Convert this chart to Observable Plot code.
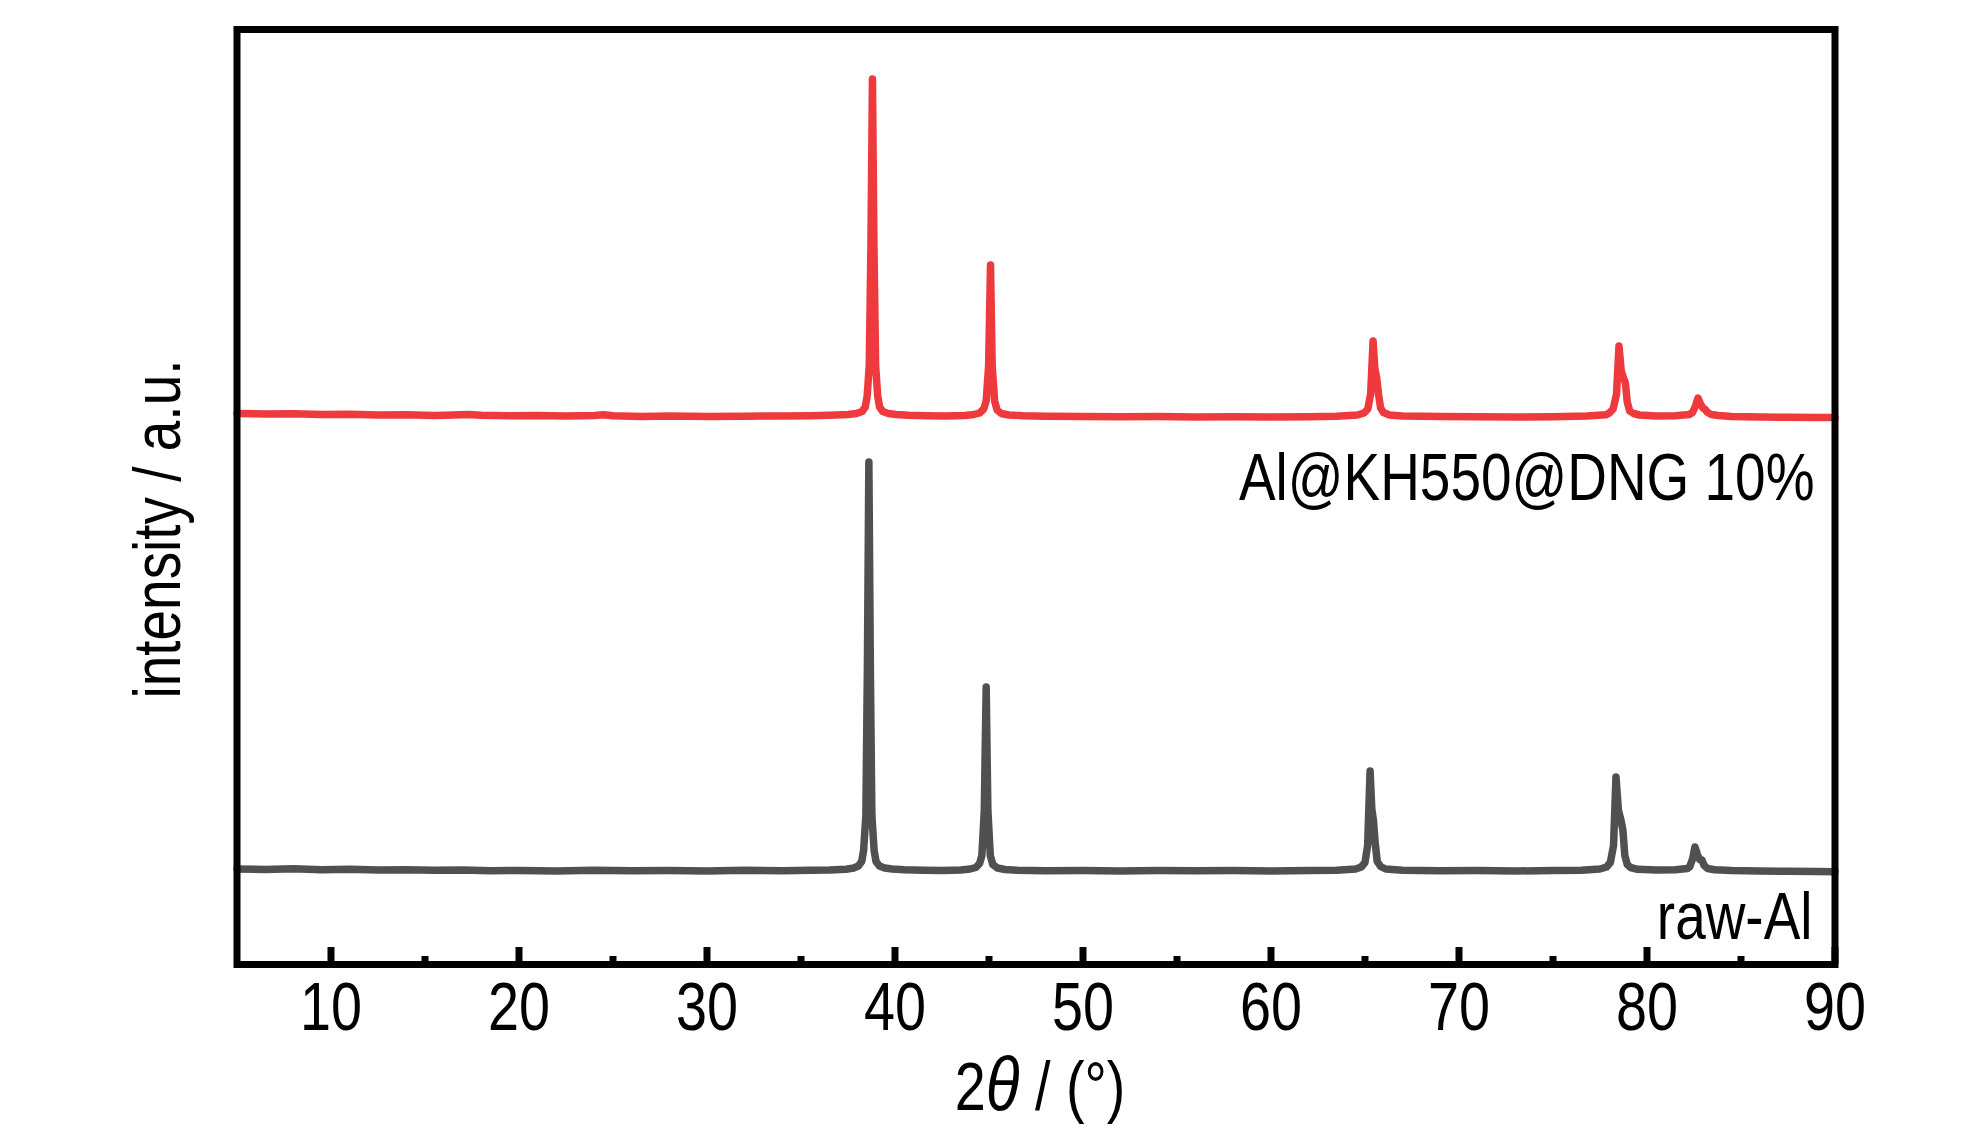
<!DOCTYPE html>
<html>
<head>
<meta charset="utf-8">
<script src="https://cdn.jsdelivr.net/npm/d3@7"></script>
<script src="https://cdn.jsdelivr.net/npm/@observablehq/plot@0.6"></script>
<style>
  html, body { margin: 0; padding: 0; background: #ffffff; }
  #chart svg { display: block; }
</style>
</head>
<body>
<div id="chart"></div>
<script>
// ---- data ----
const seriesNames = ["raw-Al", "Al@KH550@DNG 10%"];
const seriesColors = ["#505050", "#EE3A3D"];
const seriesOffsets = [94, 548.5];   // vertical stacking offset (a.u.)

// [2θ (°), intensity (a.u.)]
const rawAl = [
  [5,1.5],[6.5,1],[8,1.8],[9.5,0.8],[11,1.2],[12.5,0.5],[14,0.8],[15.5,0.2],[17,0.5],[18.5,-0.3],
  [20,0],[22,-0.5],[24,0.2],[26,-0.3],[28,0],[30,-0.5],[32,0.2],[34,-0.2],[35.5,0.3],[36.5,0.5],[37.4,1.2],
  [37.8,2.5],[38.05,4.5],[38.23,9],[38.33,20],[38.45,55],[38.53,200],[38.61,408.5],[38.69,200],[38.77,55],
  [38.89,20],[38.99,9],[39.17,4.5],[39.45,2.5],[39.85,1.5],
  [40.5,0.8],[41.5,0.2],[42.5,0],[43.5,0.5],[44.0,1.5],
  [44.3,3],[44.5,7],[44.62,15],[44.75,60],[44.85,183.5],[44.94,60],[45.07,15],[45.2,6],[45.45,2.5],[45.85,1],
  [46.5,0.3],[48,-0.3],[50,0],[52,-0.5],[54,0],[56,-0.3],[58,0],[60,-0.5],[62,0],[63.5,0.3],[64.5,1.5],
  [64.8,3.5],[65.0,8],[65.14,25],[65.27,99.5],[65.36,62],[65.45,50],[65.54,28],[65.65,9],[65.83,4],[66.1,1.5],
  [67,0.3],[69,-0.2],[71,0],[73,-0.5],[75,0],[76.5,0.3],[77.5,1.5],
  [77.85,3.5],[78.05,8],[78.22,25],[78.35,93.5],[78.48,60],[78.62,50],[78.72,40],[78.82,15],[78.95,6],[79.12,3],[79.5,1.2],
  [80.5,0.5],[81.5,0.8],[82.15,2],
  [82.28,4],[82.43,12],[82.55,23.5],[82.68,16],[82.8,11],[82.92,10.5],[83.04,5],[83.22,2],[83.6,0.8],
  [84.5,0],[86,-0.5],[87.5,-0.8],[89,-1],[90,-1.2]
];

const alKH550DNG = [
  [5,2.5],[6.5,2],[8,2.2],[9.5,1.5],[11,1.8],[12.5,1],[14,1.2],[15.5,0.5],[16.5,1],[17.3,1.6],[18,0.8],
  [19.5,0.3],[21,0.5],[22.5,0],[24,0.6],[24.5,1.2],[25,0.3],[26.5,-0.5],[28,0],[30,-0.5],[32,-0.2],[34,0],
  [35.5,0.3],[36.5,0.8],[37.5,1.5],
  [37.95,2.5],[38.25,4.5],[38.42,9],[38.52,20],[38.63,50],[38.72,170],[38.8,337],[38.88,170],[38.97,50],
  [39.08,20],[39.18,9],[39.35,4.5],[39.65,2.5],[40.05,1.5],
  [40.7,0.8],[41.7,0.3],[42.7,0],[43.7,0.5],[44.2,1.5],
  [44.5,3],[44.72,7],[44.85,15],[44.98,50],[45.08,151],[45.17,50],[45.3,15],[45.43,6],[45.65,2.5],[46.05,1],
  [46.8,0.3],[48,-0.3],[50,-0.5],[52,-0.8],[54,-0.5],[56,-1],[58,-0.8],[60,-1],[62,-0.8],[63.5,-0.3],[64.6,1],
  [64.95,3],[65.15,7],[65.3,22],[65.43,75],[65.52,48],[65.62,38],[65.72,22],[65.83,8],[65.98,3.5],[66.3,1],
  [67,0],[69,-0.5],[71,-0.8],[73,-1],[75,-0.8],[76.8,0],[77.8,1.2],
  [78.0,3],[78.2,7],[78.38,22],[78.51,70],[78.63,45],[78.75,38],[78.85,33],[78.95,14],[79.08,5],[79.28,2.5],[79.6,1],
  [80.5,0],[81.5,0.3],[82.25,1.5],
  [82.42,3.5],[82.58,10],[82.71,18],[82.85,12],[82.97,8],[83.1,6.5],[83.22,3.5],[83.42,1.5],[83.8,0.5],
  [84.5,-0.5],[86,-1],[87.5,-1.2],[89,-1.5],[90,-1.5]
];

const majorTicks = [10, 20, 30, 40, 50, 60, 70, 80, 90];
const minorTicks = [15, 25, 35, 45, 55, 65, 75, 85];
const xDomain = [5, 90];
const yDomain = [0, 935];
const xLabel = "2θ / (°)";
const yLabel = "intensity / a.u.";

// ---- table built from the arrays ----
const seriesData = [rawAl, alKH550DNG];
const rows = seriesData.flatMap((pts, i) =>
  pts.map(([t, v]) => ({series: seriesNames[i], theta: t, value: v + seriesOffsets[i]}))
);

const font = "'Liberation Sans Narrow', 'Arial Narrow', 'Liberation Sans', Arial, sans-serif";

const chart = Plot.plot({
  width: 1984,
  height: 1134,
  marginLeft: 236.5,
  marginRight: 149.5,
  marginTop: 29,
  marginBottom: 170,
  style: {fontFamily: font, color: "#000", background: "#fff", overflow: "visible"},
  x: {domain: xDomain},
  y: {domain: yDomain, axis: null},
  color: {domain: seriesNames, range: seriesColors},
  marks: [
    Plot.line(rows, {
      x: "theta", y: "value", z: "series", stroke: "series",
      strokeWidth: 7.5, strokeLinejoin: "round", strokeLinecap: "round", curve: "linear"
    }),
    Plot.axisX({ticks: majorTicks, tickSize: -17, text: null, label: null, strokeWidth: 7}),
    Plot.axisX({ticks: minorTicks, tickSize: -8, text: null, label: null, strokeWidth: 7}),
    Plot.axisX({ticks: majorTicks, tickSize: 0, tickPadding: 17, label: null,
      tickFormat: d => String(d), fontSize: 68, fontFamily: font}),
    Plot.frame({stroke: "#000", strokeWidth: 7}),
    Plot.text([xLabel], {text: d => d, frameAnchor: "bottom", dx: 4, dy: 124,
      lineAnchor: "middle", textAnchor: "middle", fontSize: 68, fontFamily: font}),
    Plot.text([yLabel], {text: d => d, frameAnchor: "left", rotate: -90, dx: -78, dy: 32,
      lineAnchor: "middle", textAnchor: "middle", fontSize: 67, fontFamily: font}),
    Plot.text([seriesNames[1]], {text: d => d, frameAnchor: "top-right", dx: -20.5, dy: 449.5,
      lineAnchor: "middle", textAnchor: "end", fontSize: 67, fontFamily: font}),
    Plot.text([seriesNames[0]], {text: d => d, frameAnchor: "bottom-right", dx: -22.5, dy: -46.5,
      lineAnchor: "middle", textAnchor: "end", fontSize: 67, fontFamily: font})
  ]
});

document.getElementById("chart").appendChild(chart);

// narrow (condensed) lettering like the original, and italic θ in the x title
const narrow = 0.82;
chart.querySelectorAll("text").forEach(t => {
  let x = parseFloat(t.getAttribute("x"));
  if (!isFinite(x)) x = 0;
  const tr = t.getAttribute("transform") || "";
  t.setAttribute("transform", `${tr} translate(${x},0) scale(${narrow},1) translate(${-x},0)`.trim());
  if (t.textContent === xLabel) {
    const parts = xLabel.split("θ");
    t.textContent = "";
    const ns = "http://www.w3.org/2000/svg";
    const a = document.createElementNS(ns, "tspan"); a.textContent = parts[0];
    const b = document.createElementNS(ns, "tspan"); b.textContent = "θ";
    b.setAttribute("font-style", "italic");
    b.setAttribute("font-size", "76");
    const c = document.createElementNS(ns, "tspan"); c.textContent = parts[1];
    t.append(a, b, c);
  }
});
</script>
</body>
</html>
